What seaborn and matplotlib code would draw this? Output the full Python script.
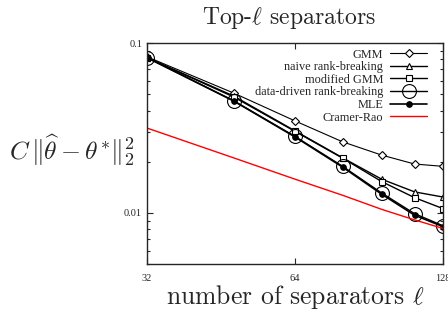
import matplotlib
matplotlib.use('Agg')
import matplotlib.pyplot as plt
import matplotlib.ticker as ticker
import pandas as pd
import seaborn as sns

# values
ells = [32, 48, 64, 80, 96, 112, 128]
gmm = [0.083, 0.0508, 0.0348, 0.0262, 0.0219, 0.0194, 0.0188]
naive = [0.082, 0.0488, 0.0304, 0.0211, 0.0158, 0.0133, 0.0124]
modified = [0.082, 0.0482, 0.0302, 0.0210, 0.0153, 0.0123, 0.0106]
datadriven = [0.082, 0.0458, 0.0282, 0.0188, 0.0131, 0.0099, 0.0084]
mle = [0.082, 0.0456, 0.0280, 0.0186, 0.0129, 0.0097, 0.0083]
cramer_rao = [0.0316, 0.0211, 0.0158, 0.0127, 0.0105, 0.0091, 0.0081]

series = [
    ('GMM', gmm),
    ('naive rank-breaking', naive),
    ('modified GMM', modified),
    ('data-driven rank-breaking', datadriven),
    ('MLE', mle),
    ('Cramer-Rao', cramer_rao),
]
df = pd.DataFrame(
    [(name, l, v) for name, vals in series for l, v in zip(ells, vals)],
    columns=['method', 'ell', 'err'],
)

sns.set_style('ticks')
plt.rcParams['font.family'] = ['Liberation Serif', 'DejaVu Serif']
plt.rcParams['mathtext.fontset'] = 'cm'

styles = {
    'GMM': dict(marker='D', markersize=4, mfc='white', lw=0.8, color='black'),
    'naive rank-breaking': dict(marker='^', markersize=5, mfc='white', lw=1.0, color='black'),
    'modified GMM': dict(marker='s', markersize=5, mfc='white', lw=1.0, color='black'),
    'data-driven rank-breaking': dict(marker='o', markersize=10, mfc='none', lw=1.0, color='black'),
    'MLE': dict(marker='o', markersize=4, mfc='black', lw=1.2, color='black'),
    'Cramer-Rao': dict(marker=None, lw=1.0, color='red'),
}

fig = plt.figure(figsize=(4.48, 3.14), dpi=100)
ax = fig.add_axes([0.328, 0.159, 0.661, 0.704])

for name, _ in series:
    st = styles[name]
    sns.lineplot(data=df[df['method'] == name], x='ell', y='err', ax=ax,
                 label=name, color=st['color'], lw=st['lw'],
                 marker=st['marker'], markersize=st.get('markersize', 0),
                 markerfacecolor=st.get('mfc', 'none'),
                 markeredgecolor=st['color'], markeredgewidth=0.8)

ax.set_xscale('log', base=2)
ax.set_yscale('log')
ax.set_xlim(32, 128)
ax.set_ylim(0.005, 0.1)
ax.set_xticks([32, 64, 128])
ax.xaxis.set_major_formatter(ticker.FixedFormatter(['32', '64', '128']))
ax.xaxis.set_minor_locator(ticker.NullLocator())
ax.set_yticks([0.01, 0.1])
ax.yaxis.set_major_formatter(ticker.FixedFormatter(['0.01', '0.1']))
ax.yaxis.set_minor_formatter(ticker.NullFormatter())
ax.tick_params(which='both', direction='in', top=True, right=True,
               labelsize=7.5, width=0.8)
ax.tick_params(which='major', length=4)
ax.tick_params(which='minor', length=2.5)
ax.tick_params(axis='x', pad=7)
for s in ax.spines.values():
    s.set_linewidth(1.0)

ax.set_xlabel(r'number of separators $\ell$', fontsize=18.5, family='cmr10',
              va='center')
ax.xaxis.set_label_coords(0.5, -0.15)
ax.set_ylabel(r'$C\,\|\widehat{\theta}-\theta^{*}\|_2^2$', fontsize=18.5,
              rotation=0, ha='center', va='center')
ax.yaxis.set_label_coords(-0.253, 0.516)
ax.text(0.48, 1.115, r'Top-$\ell$ separators', transform=ax.transAxes,
        ha='center', va='center', fontsize=17, family='cmr10')

leg = ax.legend(loc='upper right', bbox_to_anchor=(0.946, 0.975),
                frameon=False, markerfirst=False, fontsize=8.8,
                handlelength=3.0, handletextpad=0.6, labelspacing=0.05,
                borderpad=0, borderaxespad=0)

fig.savefig('out.png', dpi=100)
plt.close(fig)
